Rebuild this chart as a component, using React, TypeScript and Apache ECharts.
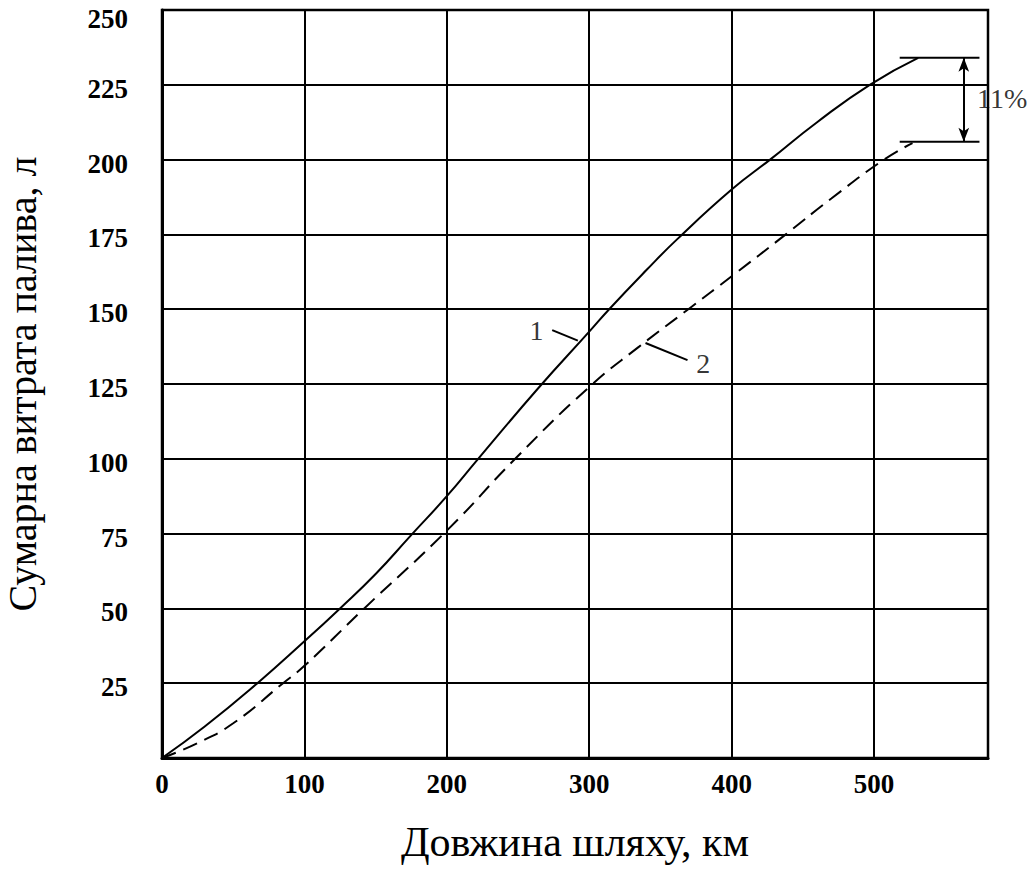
import React, { useEffect, useRef } from 'react';
import * as echarts from 'echarts';

// Curve 1 (solid)
const xCurve1 = [0, 30, 67, 100, 125, 150, 174, 200, 222, 264, 300, 314, 340, 362, 400, 427, 460, 497, 531];
const yCurve1 = [0, 10.5, 25, 39, 50, 61.5, 74, 87.5, 100, 123.5, 142.5, 150, 163, 173.5, 190, 200, 212.5, 225, 234];
// Curve 2 (dashed)
const xCurve2 = [0, 25, 50, 85, 100, 142, 200, 248, 300, 335, 371, 400, 438, 470, 507, 527];
const yCurve2 = [0, 5, 11.6, 25, 30.8, 50, 76, 100, 124, 137.5, 150.5, 161, 175, 187, 200, 205.5];

// Axis ticks
const xTicks = [0, 100, 200, 300, 400, 500];
const yTicks = [25, 50, 75, 100, 125, 150, 175, 200, 225, 250];

// Annotation: 11% difference bracket
const bracketX = [518, 574];
const bracketTop = 234;
const bracketBottom = 206;
const arrowX = 563;

// Curve labels with leaders
const leader1X = [274, 292];
const leader1Y = [143, 139.5];
const leader2X = [339.5, 369];
const leader2Y = [138.7, 133];
const textLabels = [
  { name: '1', x: 263, y: 143 },
  { name: '2', x: 380, y: 132 },
  { name: '11%', x: 590, y: 220.5 },
];

const zip = (xs: number[], ys: number[]) => xs.map((x, i) => [x, ys[i]]);

const FONT = 'Liberation Serif, Times New Roman, serif';

export default function App() {
  const ref = useRef<HTMLDivElement>(null);
  useEffect(() => {
    const chart = echarts.init(ref.current!, null, { renderer: 'svg' });
    const blackLine = { color: '#000', width: 2 };
    const yLabelFont = { color: '#000', fontFamily: FONT, fontSize: 27, fontWeight: 'bold' };
    chart.setOption({
      animation: false,
      backgroundColor: '#fff',
      grid: {
        left: 162, top: 10, right: 45, bottom: 121,
        outerBoundsMode: 'none', containLabel: false,
        show: true, borderColor: '#000', borderWidth: 2.5,
      },
      xAxis: {
        type: 'value', min: 0, max: 580, interval: 100,
        axisLine: { show: true, onZero: false, lineStyle: { color: '#000', width: 3 } },
        axisTick: { show: false },
        splitLine: { show: true, lineStyle: { color: '#000', width: 2 } },
        axisLabel: {
          color: '#000', fontFamily: FONT, fontSize: 27, fontWeight: 'bold', margin: 12,
          formatter: (v: number) => (xTicks.includes(v) ? String(v) : ''),
        },
        name: 'Довжина шляху, км',
        nameLocation: 'middle', nameGap: 63,
        nameTextStyle: { color: '#000', fontFamily: FONT, fontSize: 42 },
      },
      yAxis: {
        type: 'value', min: 0, max: 250, interval: 25,
        axisLine: { show: true, onZero: false, lineStyle: { color: '#000', width: 3 } },
        axisTick: { show: false },
        splitLine: { show: true, lineStyle: { color: '#000', width: 2 } },
        axisLabel: {
          ...yLabelFont, margin: 34, verticalAlign: 'top',
          formatter: (v: number) => {
            if (!yTicks.includes(v)) return '';
            return v === 250 ? `{t|${v}}` : `{n|${v}}`;
          },
          rich: {
            t: { ...yLabelFont, lineHeight: 18 },
            n: { ...yLabelFont, lineHeight: 8 },
          },
        },
        name: 'Сумарна витрата палива, л',
        nameLocation: 'middle', nameGap: 120,
        nameTextStyle: { color: '#000', fontFamily: FONT, fontSize: 40 },
      },
      series: [
        {
          type: 'line', data: zip(xCurve1, yCurve1), smooth: 0.5,
          showSymbol: false, lineStyle: blackLine,
        },
        {
          type: 'line', data: zip(xCurve2, yCurve2), smooth: 0.5,
          showSymbol: false, lineStyle: { color: '#000', width: 2, type: [15, 8] },
        },
        {
          type: 'line', data: zip(bracketX, [bracketTop, bracketTop]),
          showSymbol: false, lineStyle: blackLine,
        },
        {
          type: 'line', data: zip(bracketX, [bracketBottom, bracketBottom]),
          showSymbol: false, lineStyle: blackLine,
          markLine: {
            silent: true, symbol: ['arrow', 'arrow'], symbolSize: [8, 14],
            label: { show: false },
            lineStyle: { color: '#000', width: 2, type: 'solid' },
            data: [[{ coord: [arrowX, bracketTop] }, { coord: [arrowX, bracketBottom] }]],
          },
        },
        {
          type: 'line', data: zip(leader1X, leader1Y), showSymbol: false, lineStyle: blackLine,
        },
        {
          type: 'line', data: zip(leader2X, leader2Y), showSymbol: false, lineStyle: blackLine,
        },
        {
          type: 'scatter', clip: false, symbolSize: 0,
          data: textLabels.map((t) => ({ name: t.name, value: [t.x, t.y] })),
          label: {
            show: true, position: 'inside', formatter: '{b}',
            color: '#000', textBorderWidth: 0, fontFamily: FONT, fontSize: 28,
          },
        },
      ],
    });
    return () => chart.dispose();
  }, []);
  return (
    <div
      ref={ref}
      style={{ position: 'absolute', left: 0, top: 0, width: 1033, height: 879 }}
    />
  );
}
